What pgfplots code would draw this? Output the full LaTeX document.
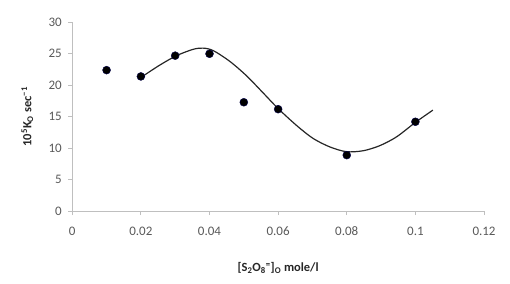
\documentclass[border=0pt]{standalone}
\usepackage{pgfplots}
\pgfplotsset{compat=1.18}
\usepackage{fontspec}
\setmainfont{Carlito}
\definecolor{axgray}{HTML}{BFBFBF}
\definecolor{tickgray}{HTML}{595959}
\begin{document}
\begin{tikzpicture}
\begin{axis}[
  scale only axis,
  width=412pt, height=189pt,
  xmin=0, xmax=0.12, ymin=0, ymax=30,
  xtick={0,0.02,0.04,0.06,0.08,0.1,0.12},
  xticklabels={0,0.02,0.04,0.06,0.08,0.1,0.12},
  ytick={0,5,10,15,20,25,30},
  axis x line*=bottom, axis y line*=left,
  axis line style={axgray, line width=0.8pt},
  tick style={axgray, line width=0.8pt},
  tick align=outside, major tick length=4pt,
  xtick pos=bottom, ytick pos=left,
  /pgf/number format/assume math mode=true,
  tick label style={font=\fontsize{13}{15}\selectfont, text=tickgray},
  xticklabel style={yshift=-8pt},
  yticklabel style={xshift=-3pt},
  xlabel={\textbf{[S\textsubscript{2}O\textsubscript{8}\textsuperscript{=}]\textsubscript{O} mole/l}},
  ylabel={\textbf{10\textsuperscript{5}K\textsubscript{O} sec\textsuperscript{−1}}},
  label style={font=\fontsize{12.5}{15}\selectfont, text=black!85},
  xlabel style={at={(axis description cs:0.5,0)}, anchor=center, yshift=-57pt},
  ylabel style={at={(axis description cs:0,0.5)}, anchor=center, rotate=0, yshift=45pt},
  clip=false,
]
\addplot[black!85, line width=1.2pt, smooth, tension=0.5] coordinates {
  (0.0202,21.3) (0.0255,23.2) (0.0304,24.7) (0.0352,25.7) (0.0381,25.9)
  (0.0411,25.5) (0.0459,23.8) (0.0508,21.5) (0.0556,18.8) (0.0600,16.3)
  (0.0654,13.6) (0.0702,11.55) (0.0751,10.2) (0.0799,9.45) (0.0848,9.6)
  (0.0896,10.4) (0.0945,11.8) (0.1000,14.1) (0.1051,16.05)
};
\addplot[only marks, mark=*, mark size=4pt, mark options={fill=black, draw=black!70!blue}] coordinates {
  (0.01,22.4) (0.02,21.4) (0.03,24.7) (0.04,25.0) (0.05,17.3) (0.06,16.2) (0.08,8.9) (0.1,14.2)
};
\end{axis}
\pgfresetboundingbox
\path ([shift={(-72.3pt,-72.3pt)}]current axis.south west) rectangle ([shift={(26pt,22.3pt)}]current axis.north east);
\end{tikzpicture}
\end{document}
